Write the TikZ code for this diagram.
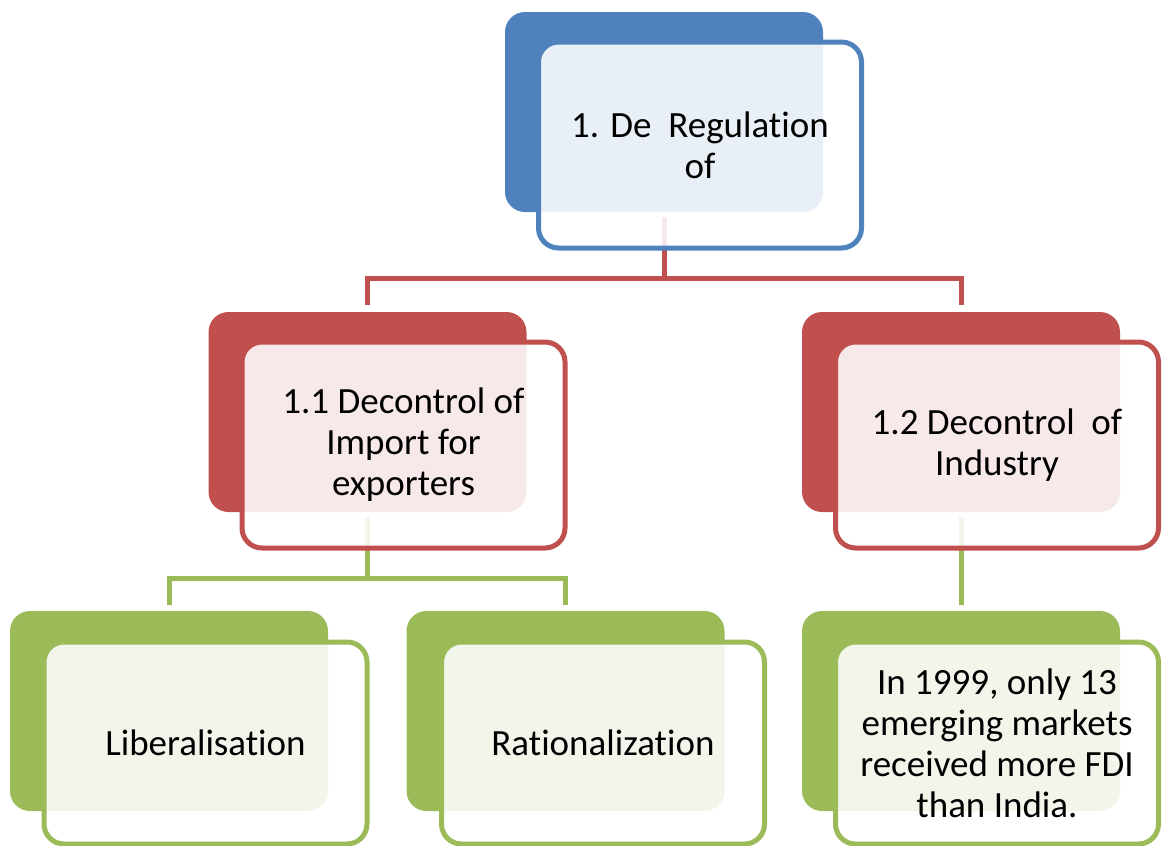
\documentclass[tikz,border=0pt]{standalone}
\usepackage{fontspec}
\setmainfont[RawFeature={-liga;-clig;-calt;-dlig}]{Carlito}
\definecolor{cblue}{HTML}{4F81BD}
\definecolor{cred}{HTML}{C0504D}
\definecolor{cgreen}{HTML}{9BBB59}
\begin{document}
\begin{tikzpicture}[x=1pt,y=-1pt,
  backbox/.style={rectangle, rounded corners=20pt, minimum width=318pt, minimum height=200pt, inner sep=0pt, outer sep=0pt},
  frontbox/.style={rectangle, rounded corners=20pt, minimum width=323pt, minimum height=206pt, line width=5pt, fill=white, fill opacity=0.88, text opacity=1, align=center, inner sep=0pt, outer sep=0pt, font=\fontsize{37}{41}\selectfont},
  conn/.style={line width=5pt}]
\useasboundingbox (0,0) rectangle (1165,846);
% back boxes
\node[backbox, fill=cblue] (b0) at (664,112) {};
\node[backbox, fill=cred] (bL) at (367.5,412) {};
\node[backbox, fill=cred] (bR) at (961,412) {};
\node[backbox, fill=cgreen] (bb1) at (169,711) {};
\node[backbox, fill=cgreen] (bb2) at (565.5,711) {};
\node[backbox, fill=cgreen] (bb3) at (961,711) {};
% connectors
\coordinate (r1) at (664,278);
\coordinate (g1) at (367.5,578);
\draw[conn, cred] ([yshift=-5pt]b0.south) -- (r1);
\draw[conn, cred] ([yshift=7pt]bL.north) |- (r1) -| ([yshift=7pt]bR.north);
\draw[conn, cgreen] ([yshift=-5pt]bL.south) -- (g1);
\draw[conn, cgreen] ([yshift=6pt]bb1.north) |- (g1) -| ([yshift=6pt]bb2.north);
\draw[conn, cgreen] ([yshift=-5pt]bR.south) -- ([yshift=6pt]bb3.north);
% front boxes
\node[frontbox, draw=cblue] (f0) at (700,145) {1. De\ \ Regulation\\of};
\node[frontbox, draw=cred] (fL) at (403.5,445) {1.1 Decontrol of\\Import for\\exporters};
\node[frontbox, draw=cred] (fR) at (997,445) {1.2 Decontrol\ \ of\\Industry};
\node[frontbox, draw=cgreen, minimum height=202pt] (fb1) at (205.5,743) {Liberalisation};
\node[frontbox, draw=cgreen, minimum height=202pt] (fb2) at (603,743) {Rationalization};
\node[frontbox, draw=cgreen, minimum height=202pt] (fb3) at (997,743) {In 1999, only 13\\emerging markets\\received more FDI\\than India.};
\end{tikzpicture}
\end{document}
